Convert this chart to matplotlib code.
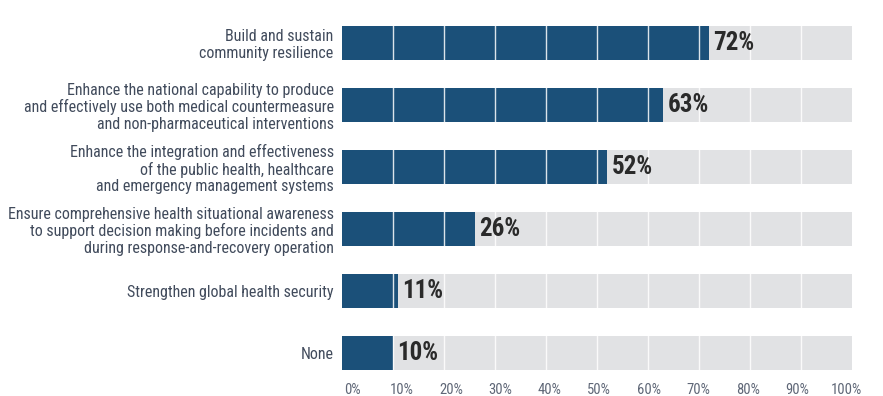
import matplotlib
matplotlib.use("Agg")
import matplotlib.pyplot as plt
from matplotlib import font_manager as fm
from matplotlib.ticker import FixedLocator, FixedFormatter

categories = [
    "Build and sustain\ncommunity resilience",
    "Enhance the national capability to produce\nand effectively use both medical countermeasure\nand non-pharmaceutical interventions",
    "Enhance the integration and effectiveness\nof the public health, healthcare\nand emergency management systems",
    "Ensure comprehensive health situational awareness\nto support decision making before incidents and\nduring response-and-recovery operation",
    "Strengthen global health security",
    "None",
]
values = [72, 63, 52, 26, 11, 10]
value_labels = ["72%", "63%", "52%", "26%", "11%", "10%"]
ticks = [0, 10, 20, 30, 40, 50, 60, 70, 80, 90, 100]
tick_labels = [f"{t}%" for t in ticks]

names = {f.name for f in fm.fontManager.ttflist}
prefs = ["Roboto Condensed", "Archivo Narrow", "PT Sans Narrow", "Barlow Condensed",
         "Open Sans Condensed", "Liberation Sans Narrow", "Pathway Gothic One",
         "Oswald", "DejaVu Sans"]
narrow = next(p for p in prefs if p in names)

W, H = 883, 396
fig = plt.figure(figsize=(W / 100, H / 100), dpi=100)
ax = fig.add_axes([342 / W, 1 - 370 / H, (852 - 342) / W, (370 - 26) / H])

blue = "#1b5079"
gray = "#e1e2e4"
label_color = "#414b5c"

ys = list(range(len(categories)))
bh = 0.54
ax.barh(ys, [100] * len(ys), height=bh, color=gray, zorder=1)
ax.barh(ys, values, height=bh, color=blue, zorder=2)
for t in ticks[1:-1]:
    ax.axvline(t, color="white", lw=1.0, alpha=0.85, zorder=3)

for y, v, lab in zip(ys, values, value_labels):
    ax.annotate(lab, (v, y), xytext=(3, 0), textcoords="offset points",
                va="center", ha="left", fontsize=18, fontweight="bold",
                color="#2a2a2a", family=narrow, zorder=4)

ax.set_xlim(0, 100)
ax.set_ylim(len(ys) - 1 + 0.27, -0.27)
ax.set_yticks(ys)
ax.set_yticklabels(categories, fontsize=11.5, color=label_color, family=narrow,
                   linespacing=1.12)
# tick labels in the reference sit slightly off the gridlines (evenly spread 2%..98%)
label_pos = [1.96 + 9.7 * i for i in range(len(ticks))]
ax.xaxis.set_major_locator(FixedLocator(label_pos))
ax.xaxis.set_major_formatter(FixedFormatter(tick_labels))
for t in ax.get_xticklabels():
    t.set_fontsize(10.5)
    t.set_color("#5f6777")
    t.set_family(narrow)
ax.tick_params(axis="both", length=0)
ax.tick_params(axis="y", pad=6)
ax.tick_params(axis="x", pad=9)
for s in ax.spines.values():
    s.set_visible(False)

fig.savefig("out.png", dpi=100)
